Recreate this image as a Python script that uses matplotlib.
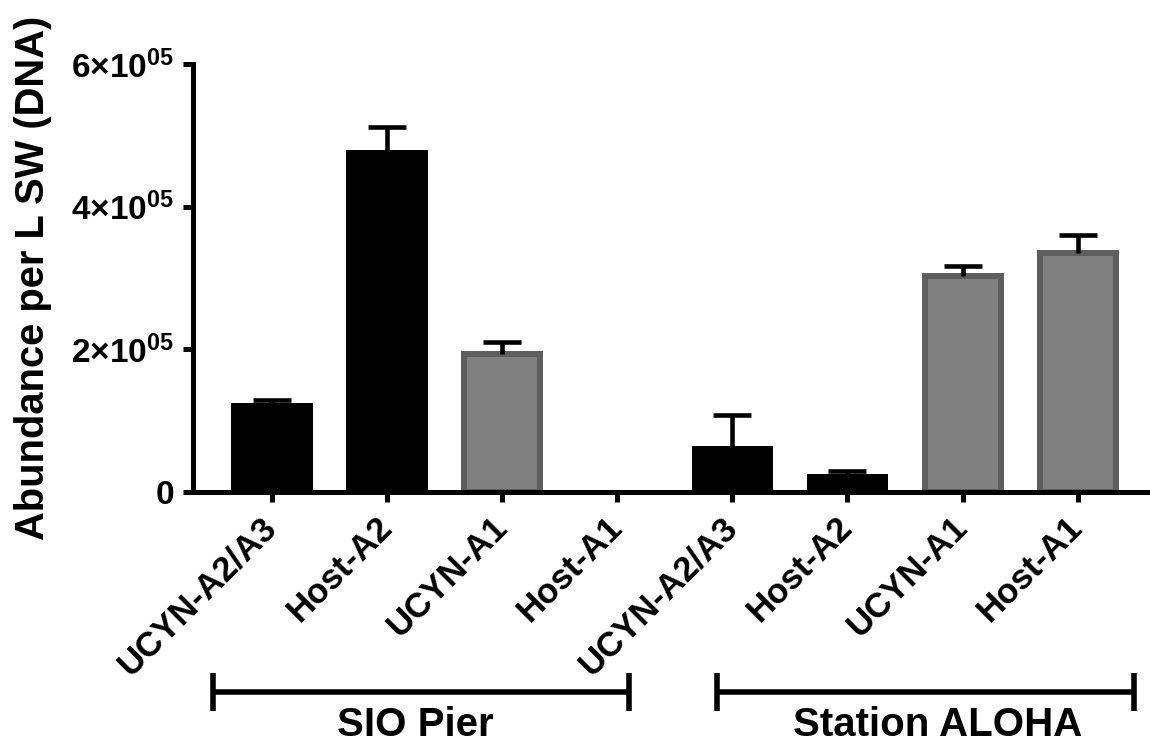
import matplotlib
matplotlib.use('Agg')
import matplotlib.pyplot as plt
import numpy as np
from matplotlib.transforms import blended_transform_factory

plt.rcParams['font.family'] = ['Liberation Sans', 'DejaVu Sans']
plt.rcParams['font.weight'] = 'bold'
plt.rcParams['mathtext.fontset'] = 'custom'
plt.rcParams['mathtext.rm'] = 'Liberation Sans'
plt.rcParams['mathtext.bf'] = 'Liberation Sans:bold'

# ------------------------------------------------------------
# Data: qPCR abundance per L seawater (mean and upper SEM)
# ------------------------------------------------------------
targets = ['UCYN-A2/A3', 'Host-A2', 'UCYN-A1', 'Host-A1']
sites = ['SIO Pier', 'Station ALOHA']

sio_mean = [1.25e5, 4.79e5, 1.93e5, 0.0]
sio_err = [0.035e5, 0.33e5, 0.17e5, np.nan]
aloha_mean = [0.65e5, 0.25e5, 3.03e5, 3.35e5]
aloha_err = [0.43e5, 0.047e5, 0.135e5, 0.25e5]

yticks = [0, 2e5, 4e5, 6e5]
ytick_labels = ['0',
                r'$\mathbf{2}{\times}\mathbf{10^{05}}$',
                r'$\mathbf{4}{\times}\mathbf{10^{05}}$',
                r'$\mathbf{6}{\times}\mathbf{10^{05}}$']

# A2 lineage in black, A1 lineage in grey
target_style = {
    'UCYN-A2/A3': dict(color='black', edgecolor='black', linewidth=0, width=0.71),
    'Host-A2': dict(color='black', edgecolor='black', linewidth=0, width=0.71),
    'UCYN-A1': dict(color='#808080', edgecolor='#5e5e5e', linewidth=4.3, width=0.66),
    'Host-A1': dict(color='#808080', edgecolor='#5e5e5e', linewidth=4.3, width=0.66),
}

labels = targets + targets
means = np.array(sio_mean + aloha_mean)
errs = np.array(sio_err + aloha_err)
x = np.arange(len(labels))

# ------------------------------------------------------------
# Plot
# ------------------------------------------------------------
fig = plt.figure(figsize=(11.5, 7.47), dpi=100)
ax = fig.add_axes([0.1678, 0.3414, 0.8322, 0.5729])

for xi, lab, m in zip(x, labels, means):
    style = dict(target_style[lab])
    if m == 0:
        style['linewidth'] = 0  # nothing to outline for an empty bar
    ax.bar(xi, m, zorder=1, **style)

# error bars drawn upward only
ok = ~np.isnan(errs)
cap = 0.165
ax.vlines(x[ok], means[ok], means[ok] + errs[ok], color='black', linewidth=3.3, zorder=3)
ax.hlines(means[ok] + errs[ok], x[ok] - cap, x[ok] + cap, color='black', linewidth=3.3, zorder=3)

ax.set_xlim(-0.686, 7.628)
ax.set_ylim(0, 6e5)

ax.set_yticks(yticks, ytick_labels)
ax.set_xticks(x, labels, rotation=45, ha='right', va='center', rotation_mode='anchor')

for side in ['top', 'right']:
    ax.spines[side].set_visible(False)
for side in ['left', 'bottom']:
    ax.spines[side].set_linewidth(3.6)

ax.tick_params(axis='both', direction='out', length=7.5, width=3.6)
ax.tick_params(axis='y', labelsize=24, pad=6)
ax.tick_params(axis='x', labelsize=25, pad=14)

ax.set_ylabel('Abundance per L SW (DNA)', fontsize=28.7, fontweight='bold')
ax.yaxis.set_label_coords(-0.147, 0.5)

# site brackets under the tick labels
trans = blended_transform_factory(ax.transData, ax.transAxes)
brackets = [(-0.51, 3.10), (3.87, 7.49)]
site_label_x = [1.245, 5.78]
for (x0, x1), site, tx in zip(brackets, sites, site_label_x):
    ax.plot([x0, x1], [-0.467, -0.467], color='black', linewidth=4.0,
            transform=trans, clip_on=False, solid_capstyle='butt')
    for xe in (x0, x1):
        ax.plot([xe, xe], [-0.423, -0.512], color='black', linewidth=4.0,
                transform=trans, clip_on=False, solid_capstyle='butt')
    ax.text(tx, -0.50, site, transform=trans, ha='center', va='top',
            fontsize=29, fontweight='bold')

fig.savefig('out.png', dpi=100)
